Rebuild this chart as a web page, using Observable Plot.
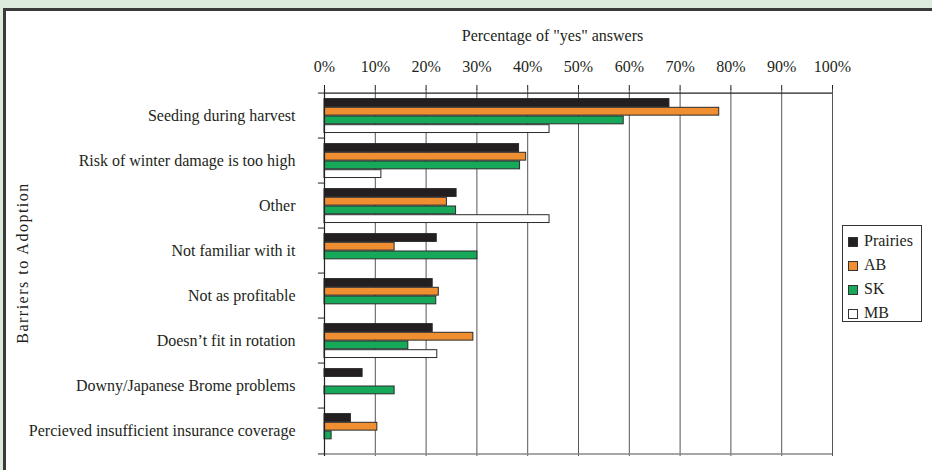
<!DOCTYPE html>
<html>
<head>
<meta charset="utf-8">
<script src="https://cdn.jsdelivr.net/npm/d3@7"></script>
<script src="https://cdn.jsdelivr.net/npm/@observablehq/plot@0.6"></script>
<style>
  html, body { margin: 0; padding: 0; width: 932px; height: 470px; overflow: hidden; background: #dcebdc; font-family: "Liberation Serif", serif; }
  #frame { position: absolute; left: 3px; top: 8px; width: 940px; height: 480px; background: #fff; border-top: 3px solid #3a3a3a; border-left: 3px solid #3a3a3a; }
  #chart { position: absolute; left: 0; top: 0; }
  #legend { position: absolute; left: 842px; top: 225px; width: 78px; height: 95px; border: 1px solid #333; background: #fff; font-size: 16px; color: #231f20; }
  .item { position: absolute; left: 5px; height: 18px; line-height: 18px; white-space: nowrap; }
  .sw { display: inline-block; width: 10px; height: 10px; border: 1px solid #333; vertical-align: -1px; margin-right: 6px; box-sizing: border-box; }
</style>
</head>
<body>
<div id="frame"></div>
<div id="chart"></div>
<div id="legend"></div>
<script>
const categories = [
  "Seeding during harvest",
  "Risk of winter damage is too high",
  "Other",
  "Not familiar with it",
  "Not as profitable",
  "Doesn\u2019t fit in rotation",
  "Downy/Japanese Brome problems",
  "Percieved insufficient insurance coverage"
];
const seriesNames = ["Prairies", "AB", "SK", "MB"];
const prairies = [67.9, 38.3, 26.0, 22.1, 21.3, 21.3, 7.5, 5.2];
const ab       = [77.7, 39.7, 24.1, 13.8, 22.5, 29.3, null, 10.4];
const sk       = [58.9, 38.5, 25.9, 30.1, 22.0, 16.5, 13.8, 1.4];
const mb       = [44.3, 11.2, 44.3, null, null, 22.2, null, null];
const xTicks = [0, 10, 20, 30, 40, 50, 60, 70, 80, 90, 100];
const colors = ["#231f20", "#ef8f31", "#17a95a", "#ffffff"];

const W = 932, H = 470;
const mTop = 89, mBottom = 14, mLeft = 324, mRight = 100;
const bw = (H - mTop - mBottom) / categories.length;
const topPad = 5.6, barH = 8.7;

const allSeries = [prairies, ab, sk, mb];
const barMarks = allSeries.map((vals, i) => {
  const rows = categories.map((c, j) => ({category: c, value: vals[j]})).filter(d => d.value != null);
  return Plot.barX(rows, {
    x: "value", y: "category",
    fill: colors[i], stroke: "#2a2a2a", strokeWidth: 1,
    insetTop: topPad + i * barH,
    insetBottom: bw - topPad - (i + 1) * barH
  });
});

const last = categories[categories.length - 1];

const plot = Plot.plot({
  width: W, height: H,
  marginTop: mTop, marginBottom: mBottom, marginLeft: mLeft, marginRight: mRight,
  style: {fontFamily: "Liberation Serif, serif", fontSize: "16px", color: "#231f20", background: "transparent", overflow: "visible"},
  x: {domain: [0, 100], axis: "top", ticks: xTicks.length - 1, tickFormat: d => d + "%", tickSize: 5, tickPadding: 13, label: null},
  y: {domain: categories, axis: null, padding: 0},
  marks: [
    Plot.ruleX(xTicks, {x: d => d, stroke: "#555", strokeWidth: 1}),
    Plot.ruleY([last], {y: d => d, x1: 0, x2: 100, dy: bw / 2, stroke: "#888", strokeWidth: 1.5}),
    ...barMarks,
    Plot.ruleX([0], {stroke: "#222", strokeWidth: 1.2}),
    Plot.ruleY([categories[0]], {y: d => d, x1: 0, x2: 100, dy: -bw / 2, stroke: "#222", strokeWidth: 1.2}),
    Plot.ruleY(categories, {y: d => d, x1: -1.2, x2: 0, dy: -bw / 2, stroke: "#222", strokeWidth: 1}),
    Plot.ruleY([last], {y: d => d, x1: -1.2, x2: 0, dy: bw / 2, stroke: "#222", strokeWidth: 1}),
    Plot.text(categories, {y: d => d, text: d => d, frameAnchor: "left", textAnchor: "end", dx: -29, fill: "#231f20", fontSize: 16}),
    Plot.text(["Percentage of \"yes\" answers"], {text: d => d, frameAnchor: "top", textAnchor: "middle", dx: -26, dy: -60, fill: "#231f20", fontSize: 16}),
    Plot.text(["Barriers to Adoption"], {text: d => d, frameAnchor: "left", textAnchor: "middle", rotate: -90, dx: -302, dy: -10, fill: "#231f20", fontSize: 16})
  ]
});
plot.querySelectorAll("text").forEach(t => { if (t.textContent === "Barriers to Adoption") t.setAttribute("letter-spacing", "1.5"); });
document.getElementById("chart").appendChild(plot);

const legend = document.getElementById("legend");
seriesNames.forEach((name, i) => {
  const item = document.createElement("div");
  item.className = "item";
  item.style.top = (6 + i * 24) + "px";
  const sw = document.createElement("span");
  sw.className = "sw";
  sw.style.background = colors[i];
  item.appendChild(sw);
  item.appendChild(document.createTextNode(name));
  legend.appendChild(item);
});
</script>
</body>
</html>
